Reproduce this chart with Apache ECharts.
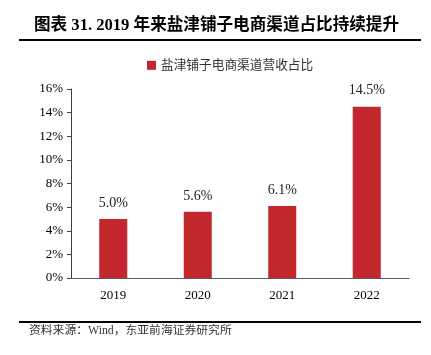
<!DOCTYPE html>
<html>
<head>
<meta charset="utf-8">
<script src="https://cdn.jsdelivr.net/npm/echarts@6/dist/echarts.min.js"></script>
<style>html,body{margin:0;padding:0;background:#fff;}#c{width:431px;height:355px;}</style>
</head>
<body>
<div id="c"></div>
<script>
var categories = ['2019', '2020', '2021', '2022'];
var shareValues = [5.0, 5.6, 6.1, 14.5];
var yTicks = [0, 2, 4, 6, 8, 10, 12, 14, 16];
var seriesName = '盐津铺子电商渠道营收占比';
var titleText = '图表 31. 2019 年来盐津铺子电商渠道占比持续提升';
var sourceText = '资料来源：Wind，东亚前海证券研究所';

var serif = "'Liberation Serif', 'Noto Sans CJK SC', serif";
var chart = echarts.init(document.getElementById('c'), null, {renderer: 'canvas'});
chart.setOption({
  animation: false,
  backgroundColor: '#fff',
  title: {
    text: titleText,
    left: 29, top: 12,
    textStyle: {fontFamily: serif, fontSize: 16.6, fontWeight: 'bold', color: '#000'}
  },
  legend: {
    data: [seriesName],
    left: 142, top: 54,
    itemWidth: 9, itemHeight: 9, itemGap: 5,
    icon: 'rect',
    textStyle: {fontFamily: serif, fontSize: 12.7, color: '#333'}
  },
  graphic: [
    {type: 'line', shape: {x1: 19, y1: 40, x2: 421, y2: 40}, style: {stroke: '#000', lineWidth: 2}},
    {type: 'line', shape: {x1: 19, y1: 322, x2: 421, y2: 322}, style: {stroke: '#000', lineWidth: 2}},
    {type: 'text', left: 29, top: 325, style: {text: sourceText, font: "11.8px 'Liberation Serif', 'Noto Sans CJK SC', serif", fill: '#333'}}
  ],
  grid: {left: 71, right: 22, top: 89, bottom: 77, containLabel: false},
  xAxis: {
    type: 'category',
    data: categories,
    axisLine: {show: true, lineStyle: {color: '#595959', width: 1}},
    axisTick: {show: false},
    axisLabel: {fontFamily: serif, fontSize: 13, color: '#000', margin: 11}
  },
  yAxis: {
    type: 'value',
    min: yTicks[0], max: yTicks[yTicks.length - 1], interval: 2,
    axisLine: {show: true, lineStyle: {color: '#404040', width: 1}},
    axisTick: {show: true, inside: false, length: 4, lineStyle: {color: '#404040'}},
    splitLine: {show: false},
    axisLabel: {fontFamily: serif, fontSize: 13, color: '#000', margin: 8, formatter: '{value}%'}
  },
  series: [{
    name: seriesName,
    type: 'bar',
    data: shareValues,
    barWidth: 28,
    itemStyle: {color: '#C1272D'},
    label: {
      show: true, position: 'top', distance: 9,
      fontFamily: serif, fontSize: 14, color: '#222',
      formatter: function (p) { return p.value.toFixed(1) + '%'; }
    }
  }]
});
</script>
</body>
</html>
